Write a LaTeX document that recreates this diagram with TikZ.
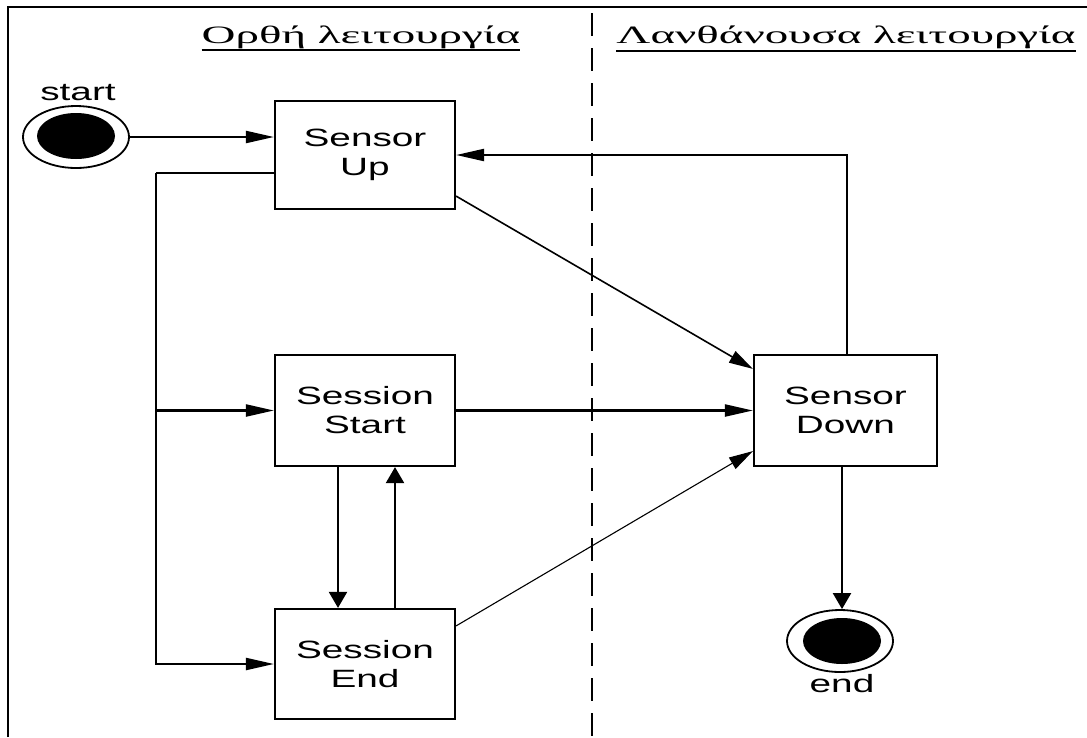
\documentclass[tikz,border=0pt]{standalone}
\usepackage{fontspec}
\usetikzlibrary{arrows.meta,shapes.geometric}
\newfontfamily\nodefont[FakeStretch=1.55]{Liberation Sans}
\newfontfamily\headfont[FakeStretch=1.88]{Liberation Serif}
\begin{document}
\begin{tikzpicture}[x=1pt,y=-1pt,
  statebox/.style={draw,line width=2.2pt,minimum width=180pt,minimum height=110pt,inner sep=0pt,align=center,font=\nodefont\fontsize{25}{29}\selectfont},
  plain/.style={inner sep=0pt,font=\nodefont\fontsize{25}{29}\selectfont},
  headtext/.style={inner sep=0pt,font=\headfont\fontsize{25}{29}\selectfont},
  conn/.style={line width=2.2pt},
  harrow/.style={conn,-{Triangle[length=28pt,width=12pt]}},
  varrow/.style={conn,-{Triangle[length=16pt,width=18pt]}},
  darrow/.style={-{Triangle[length=24pt,width=13pt]}},
  outerring/.style={ellipse,draw,line width=1.8pt,minimum width=106pt,minimum height=62pt,inner sep=0pt},
  innerdot/.style={ellipse,fill=black,minimum width=78pt,minimum height=46pt,inner sep=0pt}
]
\useasboundingbox (0,0) rectangle (1087,737);
% frame and lane separator
\draw[line width=2.4pt] (8,737) -- (8,7) -- (1087,7);
\draw[line width=2.4pt,dash pattern=on 23pt off 12pt] (592,13) -- (592,737);
% headers
\node[headtext,anchor=base] (h1) at (361,43) {Ορθή λειτουργία};
\node[headtext,anchor=base] (h2) at (846,43) {Λανθάνουσα λειτουργία};
\draw[line width=1.8pt] ([yshift=-7pt]h1.base west) -- ([yshift=-7pt]h1.base east);
\draw[line width=1.8pt] ([yshift=-8pt]h2.base west) -- ([yshift=-8pt]h2.base east);
% start / end
\node[outerring] (start) at (76,137) {};
\node[innerdot] (startdot) at (76,136) {};
\node[plain] (startlbl) at (78,93) {start};
\node[outerring] (end) at (840,641) {};
\node[innerdot] (enddot) at (842,641) {};
\node[plain] (endlbl) at (842,684) {end};
% states
\node[statebox,minimum height=108pt] (su) at (365,155) {Sensor\\Up};
\node[statebox,minimum height=111pt] (ss) at (365,410.5) {Session\\Start};
\node[statebox] (se) at (365,664) {Session\\End};
\node[statebox,minimum width=183pt,minimum height=111pt] (sd) at (845.5,410.5) {Sensor\\Down};
% connectors
\coordinate (trunktop) at (156,173);
\coordinate (trunkmid) at (156,410.5);
\draw[harrow] (start.east) -- (su.west |- start.east);
\draw[conn] ([yshift=-18pt]su.west) -- (trunktop);
\draw[harrow] (trunktop) |- (se.west);
\draw[harrow] (trunkmid) -- (ss.west);
\draw[harrow] (ss.east) -- (sd.west);
\draw[darrow,line width=1.6pt] ([yshift=14pt]su.south east) -- ([yshift=-15pt]sd.north west);
\draw[darrow,line width=1.1pt] ([yshift=-18pt]se.north east) -- ([yshift=16pt]sd.south west);
\draw[varrow] ([xshift=-27pt]ss.south) -- ([xshift=-27pt]se.north);
\draw[varrow] ([xshift=30pt]se.north) -- ([xshift=30pt]ss.south);
\draw[harrow] ([xshift=1.5pt]sd.north) |- (su.east);
\draw[varrow] ([xshift=-3.5pt]sd.south) -- ([xshift=-3.5pt]sd.south |- end.north);
\end{tikzpicture}
\end{document}
